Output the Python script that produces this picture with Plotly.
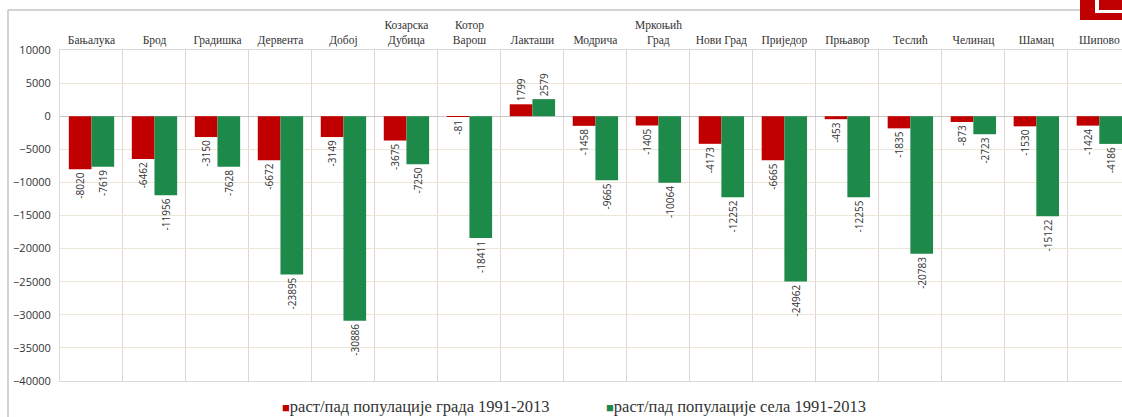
import plotly.graph_objects as go

# Municipalities (x categories, shown on top)
municipalities = [
    "Бањалука", "Брод", "Градишка", "Дервента", "Добој",
    "Козарска<br>Дубица", "Котор<br>Варош", "Лакташи", "Модрича",
    "Мркоњић<br>Град", "Нови Град", "Приједор", "Прњавор", "Теслић",
    "Челинац", "Шамац", "Шипово",
]

# population change 1991-2013
city_change = [-8020, -6462, -3150, -6672, -3149, -3675, -81, 1799, -1458,
               -1405, -4173, -6665, -453, -1835, -873, -1530, -1424]
village_change = [-7619, -11956, -7628, -23895, -30886, -7250, -18411, 2579, -9665,
                  -10064, -12252, -24962, -12255, -20783, -2723, -15122, -4186]

series_names = ["раст/пад популације града 1991-2013",
                "раст/пад популације села 1991-2013"]

RED = "#c00000"
GREEN = "#1e8a4a"
SERIF = "Liberation Serif, serif"
SANS = "Open Sans, sans-serif"

fig = go.Figure()

for name, vals, col in [(series_names[0], city_change, RED),
                        (series_names[1], village_change, GREEN)]:
    fig.add_trace(go.Bar(
        x=municipalities, y=vals, name=name,
        marker=dict(color=col, line=dict(width=0)),
        text=[str(v) for v in vals],
        textposition="outside",
        textangle=-90,
        constraintext="none",
        textfont=dict(size=10, color="#333333", family=SANS),
        cliponaxis=False,
    ))

# outer frame and corner logo
W, L, R, T, B = 1122, 60, 0, 50, 36
pw = W - L - R
ph = 417 - T - B


def px_x(p):
    return (p - L) / pw


def px_y(p):
    return (417 - B - p) / ph


shapes = [
    # frame lines (top and left edge of the outer box)
    dict(type="line", xref="paper", yref="paper",
         x0=px_x(8), x1=px_x(1122), y0=px_y(10), y1=px_y(10),
         line=dict(color="#c4c4c4", width=1.5)),
    dict(type="line", xref="paper", yref="paper",
         x0=px_x(8), x1=px_x(8), y0=px_y(417), y1=px_y(10),
         line=dict(color="#c4c4c4", width=1.5)),
    dict(type="rect", xref="paper", yref="paper",
         x0=px_x(1080), x1=px_x(1123), y0=px_y(20), y1=px_y(-2),
         line=dict(width=0), fillcolor=RED),
    dict(type="rect", xref="paper", yref="paper",
         x0=px_x(1095), x1=px_x(1123), y0=px_y(13), y1=px_y(-2),
         line=dict(width=0), fillcolor="white"),
    dict(type="rect", xref="paper", yref="paper",
         x0=px_x(1099), x1=px_x(1123), y0=px_y(10), y1=px_y(-2),
         line=dict(width=0), fillcolor=RED),
]

# legend drawn as text with coloured squares
legend_y = px_y(406)
annotations = [
    dict(xref="paper", yref="paper", x=px_x(280), y=legend_y, xanchor="left", yanchor="middle",
         showarrow=False, font=dict(family=SERIF, size=16.5, color="#333333"),
         text=f"<span style='color:{RED};font-size:13px'>■</span>{series_names[0]}"),
    dict(xref="paper", yref="paper", x=px_x(604), y=legend_y, xanchor="left", yanchor="middle",
         showarrow=False, font=dict(family=SERIF, size=16.5, color="#333333"),
         text=f"<span style='color:{GREEN};font-size:13px'>■</span>{series_names[1]}"),
]

fig.update_layout(
    width=W, height=417,
    margin=dict(l=L, r=R, t=T, b=B),
    paper_bgcolor="white",
    plot_bgcolor="white",
    barmode="group",
    bargap=0.28,
    bargroupgap=0,
    shapes=shapes,
    annotations=annotations,
    showlegend=False,
    xaxis=dict(
        side="top", type="category",
        range=[-0.5, 16.36],
        tickson="boundaries",
        automargin=False,
        showgrid=True, gridcolor="#e2d4ce", gridwidth=1,
        ticks="", ticklen=0,
        tickfont=dict(family=SERIF, size=11.5, color="#333333"),
        showline=True, linecolor="#d9d9d9", mirror=True,
    ),
    yaxis=dict(
        range=[-40000, 10000], dtick=5000, tickformat="d",
        automargin=False,
        showgrid=True, gridcolor="#ebe6d8", gridwidth=1,
        zeroline=True, zerolinecolor="#c8c8c8", zerolinewidth=1,
        tickfont=dict(family=SANS, size=11, color="#333333"),
        ticks="", showline=True, linecolor="#d9d9d9", mirror=True,
        ticklabelstandoff=6,
    ),
)

# page body has a default margin; remove it so the figure fills the window
fig.write_html("out.html", config={"displayModeBar": False},
               post_script="document.body.style.margin='0';")
